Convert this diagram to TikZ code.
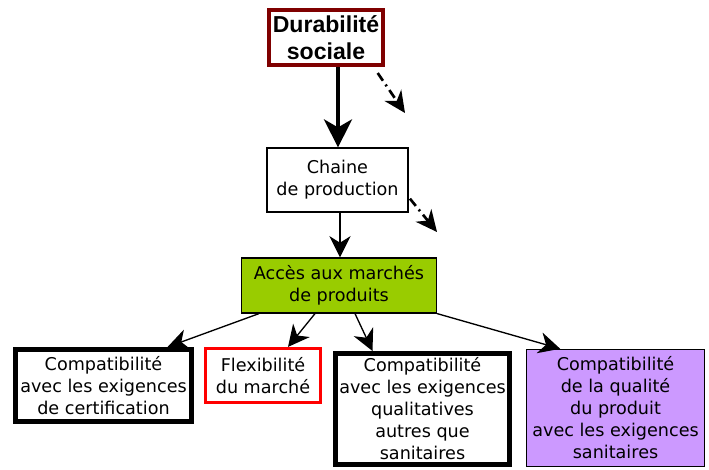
\documentclass[tikz,border=0pt]{standalone}
\usepackage{fontspec}
\setmainfont{DejaVu Sans}
\newfontfamily\arialfont{Liberation Sans}
\usetikzlibrary{arrows.meta}
\definecolor{durred}{HTML}{7F0000}
\definecolor{accgreen}{HTML}{99CC00}
\definecolor{sanpurple}{HTML}{CC99FF}
\tikzset{
  boxbase/.style={draw, rectangle, align=center, inner sep=0pt, font=\fontsize{13.2}{16.5}\selectfont},
  thickbox/.style={boxbase, line width=3.75pt},
  arr/.style={-{Stealth[length=16pt,width=16pt,inset=5pt]}, line width=1pt},
  dotarr/.style={-{Stealth[length=16pt,width=15pt,inset=5pt]}, line width=2pt, dash pattern=on 7pt off 3.5pt on 1.5pt off 3.5pt},
}
\begin{document}
\begin{tikzpicture}[x=0.75pt,y=-0.75pt]
\useasboundingbox (0,0) rectangle (709,469);
\node[boxbase, draw=durred, line width=3pt, minimum width=114*0.75pt, minimum height=55*0.75pt,
  font=\arialfont\bfseries\fontsize{17.3}{20.5}\selectfont] (dur) at (326,37.5) {Durabilité\\sociale};
\node[boxbase, line width=0.9pt, minimum width=141*0.75pt, minimum height=64*0.75pt] (ch) at (337.5,180) {Chaine\\de production};
\node[boxbase, fill=accgreen, line width=0.9pt, minimum width=195*0.75pt, minimum height=55*0.75pt] (acc) at (339,285.5) {Accès aux marchés\\de produits};
\node[thickbox, minimum width=176*0.75pt, minimum height=72*0.75pt] (b1) at (103.5,385.5) {Compatibilité\\avec les exigences\\de certification};
\node[boxbase, draw=red, line width=2.4pt, minimum width=115*0.75pt, minimum height=54*0.75pt] (b2) at (263,375.5) {Flexibilité\\du marché};
\node[thickbox, minimum width=174*0.75pt, minimum height=111*0.75pt] (b3) at (422.5,409) {Compatibilité\\avec les exigences\\qualitatives\\autres que\\sanitaires};
\node[boxbase, fill=sanpurple, line width=1.1pt, minimum width=178*0.75pt, minimum height=117*0.75pt] (b4) at (615.5,408) {Compatibilité\\de la qualité\\du produit\\avec les exigences\\sanitaires};
\draw[-{Stealth[length=21pt,width=21pt,inset=6pt]}, line width=3pt] (dur.south -| 338,0) -- (ch.north -| 338,0);
\coordinate (d1) at (405,113);
\coordinate (d2) at (437,232);
\draw[dotarr] ([xshift=-5.5pt,yshift=-4.5pt]dur.south east) -- (d1);
\draw[dotarr] ([xshift=1pt,yshift=-14pt]ch.east) -- (d2);
\draw[arr] (ch.south -| 340,0) -- (acc.north -| 340,0);
\draw[arr] ([xshift=-60pt]acc.south) -- ([xshift=48pt]b1.north);
\draw[arr] ([xshift=-18pt]acc.south) -- ([xshift=18.75pt]b2.north);
\draw[arr] ([xshift=12pt]acc.south) -- ([xshift=-37.5pt]b3.north);
\draw[arr] (acc.south east) -- ([xshift=-41.5pt]b4.north);
\end{tikzpicture}
\end{document}
